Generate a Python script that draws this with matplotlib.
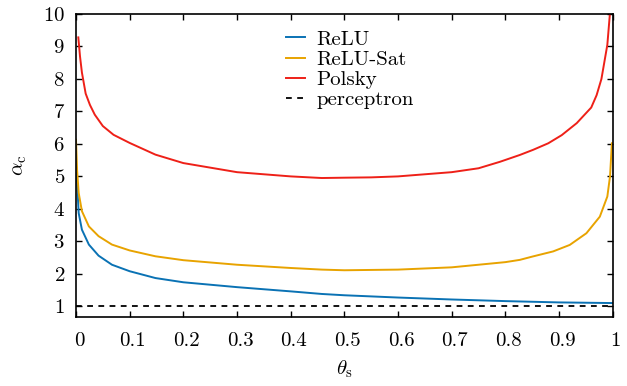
import matplotlib
matplotlib.use('Agg')
import matplotlib.pyplot as plt
import matplotlib.transforms as mtransforms

# values
relu_x = [0.001, 0.005, 0.011, 0.024, 0.042, 0.067, 0.1, 0.148, 0.2, 0.3, 0.4, 0.458,
          0.5, 0.6, 0.7, 0.8, 0.9, 1.0]
relu_y = [5.1, 3.87, 3.36, 2.90, 2.56, 2.28, 2.08, 1.87, 1.74, 1.59, 1.46, 1.38,
          1.34, 1.27, 1.21, 1.16, 1.12, 1.10]

sat_x = [0.0, 0.002, 0.005, 0.011, 0.024, 0.042, 0.067, 0.1, 0.148, 0.2, 0.3, 0.4, 0.458,
         0.5, 0.6, 0.7, 0.8, 0.827, 0.85, 0.889, 0.92, 0.951, 0.976, 0.99, 0.995, 0.9985]
sat_y = [6.13, 5.2, 4.49, 3.93, 3.46, 3.16, 2.90, 2.72, 2.54, 2.42, 2.28, 2.18, 2.13,
         2.11, 2.13, 2.20, 2.36, 2.43, 2.53, 2.69, 2.89, 3.25, 3.76, 4.38, 5.0, 6.02]

polsky_x = [0.0043, 0.0075, 0.011, 0.018, 0.026, 0.035, 0.05, 0.07, 0.1, 0.148, 0.2, 0.3,
            0.4, 0.458, 0.5, 0.55, 0.6, 0.7, 0.75, 0.79, 0.827, 0.852, 0.88, 0.905,
            0.933, 0.96, 0.97, 0.979, 0.99, 0.995]
polsky_y = [9.28, 8.69, 8.2, 7.55, 7.2, 6.9, 6.55, 6.28, 6.03, 5.67, 5.41, 5.13,
            5.0, 4.95, 4.96, 4.97, 5.0, 5.13, 5.25, 5.45, 5.66, 5.82, 6.02, 6.27,
            6.64, 7.12, 7.5, 8.0, 9.05, 10.05]

perc_x = [0.0, 1.0]
perc_y = [1.0, 1.0]

plt.rcParams['font.family'] = 'cmr10'
plt.rcParams['mathtext.fontset'] = 'cm'
plt.rcParams['axes.formatter.use_mathtext'] = True
plt.rcParams['font.size'] = 15

fig = plt.figure(figsize=(6.27, 3.86), dpi=100)
ax = fig.add_axes([76 / 627, 1 - 316.7 / 386, 536.7 / 627, 302.7 / 386])

ax.plot(relu_x, relu_y, color='#0a72b4', lw=1.4, label='ReLU')
ax.plot(sat_x, sat_y, color='#e8a300', lw=1.4, label='ReLU-Sat')
ax.plot(polsky_x, polsky_y, color='#ee2018', lw=1.4, label='Polsky')
ax.plot(perc_x, perc_y, color='black', lw=1.3, linestyle=(0, (3.2, 3)), label='perceptron')

ax.set_xlim(0, 1)
ax.set_ylim(0.68, 10)
ax.set_xticks([0, 0.1, 0.2, 0.3, 0.4, 0.5, 0.6, 0.7, 0.8, 0.9, 1])
ax.set_xticklabels(['0', '0.1', '0.2', '0.3', '0.4', '0.5', '0.6', '0.7', '0.8', '0.9', '1'])
ax.set_yticks(range(1, 11))
ax.tick_params(direction='in', top=True, right=True, length=4.5, width=1.0)
ax.tick_params(axis='x', pad=11)
ax.tick_params(axis='y', pad=8)
for s in ax.spines.values():
    s.set_linewidth(1.2)

# the x labels sit a little to the right of their ticks in the original
shift = mtransforms.ScaledTranslation(3 / 100, 0, fig.dpi_scale_trans)
for lab in ax.get_xticklabels():
    lab.set_transform(lab.get_transform() + shift)

ax.set_xlabel(r'$\theta_{\rm s}$', labelpad=6)
ax.set_ylabel(r'$\alpha_{\rm c}$', labelpad=10)

ax.legend(loc='upper left', bbox_to_anchor=(0.391, 0.947), frameon=False,
          handlelength=0.92, handletextpad=0.55, labelspacing=0.08,
          borderpad=0, borderaxespad=0)

plt.savefig('out.png', dpi=100)
